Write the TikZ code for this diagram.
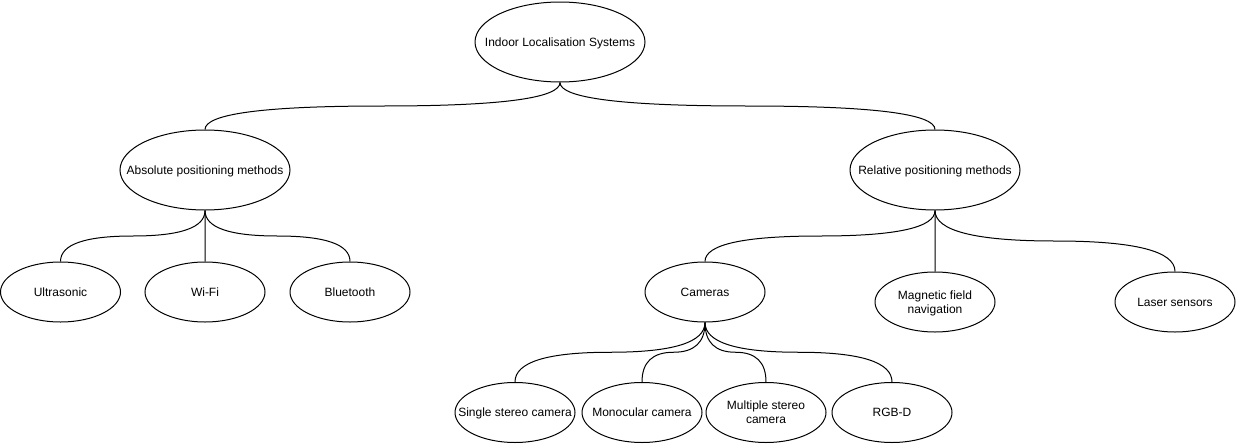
\documentclass[tikz,border=0pt]{standalone}
\usepackage{fontspec}
\setmainfont{Liberation Sans}
\usetikzlibrary{shapes}
\usetikzlibrary{calc}
\tikzset{
	treenode/.style = {
		ellipse,
		draw=black,
		line width=0.75pt,
		inner sep=0pt,
		font=\fontsize{9}{10.5}\selectfont
	},
	node_big/.style = {
		treenode,
		minimum width=127.5pt,
		minimum height=60pt
	},
	node_small/.style = {
		treenode,
		minimum width=90pt,
		minimum height=45pt
	},
	link/.style = {
		draw=black,
		line width=0.75pt
	}
}
% text that does not widen the ellipse
\newcommand{\lbl}[1]{\makebox[0pt]{\raisebox{-1.2pt}[\height][\depth]{\begin{tabular}{@{}c@{}}#1\end{tabular}}}}
% curved edge from the bottom of #1 to the top of #2
\newcommand{\curvelink}[2]{
	\coordinate (p0) at (#1.south);
	\coordinate (p3) at (#2.north);
	\coordinate (pm) at ($(p0)!0.5!(p3)$);
	\coordinate (p1) at (p0 |- pm);
	\coordinate (p2) at (p3 |- pm);
	\draw [link] (p0) .. controls ($(p0)!2/3!(p1)$) and ($(pm)!2/3!(p1)$) .. (pm)
		.. controls ($(pm)!2/3!(p2)$) and ($(p3)!2/3!(p2)$) .. (p3);
}

\begin{document}
\begin{tikzpicture}[x=0.75pt, y=-0.75pt]
\useasboundingbox (0,0) rectangle (1236,443);
\node [node_big] (root) at (560,42) {\lbl{Indoor Localisation Systems}};
\node [node_big] (absolute) at (205,170) {\lbl{Absolute positioning methods}};
\node [node_big] (relative) at (935,170) {\lbl{Relative positioning methods}};
\node [node_small] (ultrasonic) at (60.5,292) {\lbl{Ultrasonic}};
\node [node_small] (wifi) at (205,292) {\lbl{Wi-Fi}};
\node [node_small] (bluetooth) at (350,292) {\lbl{Bluetooth}};
\node [node_small] (cameras) at (705,292) {\lbl{Cameras}};
\node [node_small] (magnetic) at (935,302) {\lbl{Magnetic field\\navigation}};
\node [node_small] (laser) at (1175,302) {\lbl{Laser sensors}};
\node [node_small] (single) at (515,412.5) {\lbl{Single stereo camera}};
\node [node_small] (mono) at (642,412.5) {\lbl{Monocular camera}};
\node [node_small] (multi) at (766,412.5) {\lbl{Multiple stereo\\camera}};
\node [node_small] (rgbd) at (892,412.5) {\lbl{RGB-D}};

\curvelink{root}{absolute}
\curvelink{root}{relative}
\curvelink{absolute}{ultrasonic}
\curvelink{absolute}{wifi}
\curvelink{absolute}{bluetooth}
\curvelink{relative}{cameras}
\curvelink{relative}{magnetic}
\curvelink{relative}{laser}
\curvelink{cameras}{single}
\curvelink{cameras}{mono}
\curvelink{cameras}{multi}
\curvelink{cameras}{rgbd}
\end{tikzpicture}
\end{document}
